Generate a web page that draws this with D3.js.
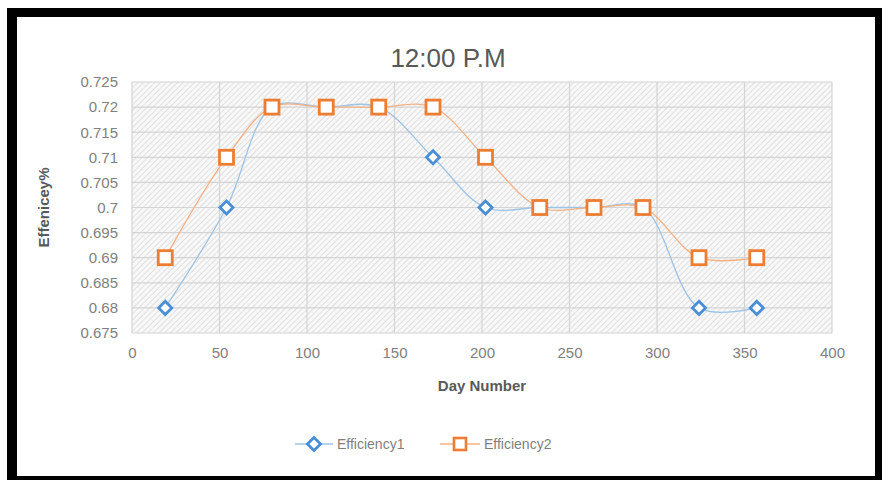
<!DOCTYPE html>
<html>
<head>
<meta charset="utf-8">
<script src="https://cdn.jsdelivr.net/npm/d3@7"></script>
<style>
  body { margin: 0; background: #fff; }
  svg { display: block; font-family: "Liberation Sans", Arial, sans-serif; }
</style>
</head>
<body>
<div id="chart"></div>
<script>
// --- DATA ---
const days = [19, 54, 80, 111, 141, 172, 202, 233, 264, 292, 324, 357];
const efficiency1 = [0.68, 0.70, 0.72, 0.72, 0.72, 0.71, 0.70, 0.70, 0.70, 0.70, 0.68, 0.68];
const efficiency2 = [0.69, 0.71, 0.72, 0.72, 0.72, 0.72, 0.71, 0.70, 0.70, 0.70, 0.69, 0.69];
const xTicks = [0, 50, 100, 150, 200, 250, 300, 350, 400];
const yTicks = [0.675, 0.68, 0.685, 0.69, 0.695, 0.7, 0.705, 0.71, 0.715, 0.72, 0.725];
const seriesNames = ["Efficiency1", "Efficiency2"];

const W = 882, H = 480;
const margin = { top: 82, right: 50, bottom: 147, left: 132 };
const width = 700, height = 251;

const svg = d3.select("#chart").append("svg")
    .attr("width", W).attr("height", H);

// black frame round the white chart area
svg.append("rect").attr("x", 7).attr("y", 8).attr("width", 875).attr("height", 472).attr("fill", "#000");
svg.append("rect").attr("x", 17).attr("y", 17).attr("width", 858).attr("height", 459).attr("fill", "#fff");

// hatch pattern for plot area
const defs = svg.append("defs");
const pat = defs.append("pattern").attr("id", "hatch")
    .attr("width", 4).attr("height", 4)
    .attr("patternUnits", "userSpaceOnUse")
    .attr("patternTransform", "rotate(45)");
pat.append("rect").attr("width", 4).attr("height", 4).attr("fill", "#f8f8f8");
pat.append("line").attr("x1", 0).attr("y1", 0).attr("x2", 0).attr("y2", 4)
    .attr("stroke", "#d6d6d6").attr("stroke-width", 1.4);

const g = svg.append("g").attr("transform", `translate(${margin.left},${margin.top})`);

const x = d3.scaleLinear().domain([0, 400]).range([0, width]);
const y = d3.scaleLinear().domain([0.675, 0.725]).range([height, 0]);

g.append("rect").attr("width", width).attr("height", height).attr("fill", "url(#hatch)");

// gridlines
g.append("g").selectAll("line").data(yTicks).join("line")
    .attr("x1", 0).attr("x2", width)
    .attr("y1", d => y(d)).attr("y2", d => y(d))
    .attr("stroke", "#d4d4d4").attr("stroke-width", 1.2);
g.append("g").selectAll("line").data(xTicks).join("line")
    .attr("y1", 0).attr("y2", height)
    .attr("x1", d => x(d)).attr("x2", d => x(d))
    .attr("stroke", "#d4d4d4").attr("stroke-width", 1.2);

// axes (labels only)
const xAxis = g.append("g").attr("transform", `translate(0,${height})`)
    .call(d3.axisBottom(x).tickValues(xTicks).tickSize(0).tickPadding(14).tickFormat(d3.format("d")));
const yAxis = g.append("g")
    .call(d3.axisLeft(y).tickValues(yTicks).tickSize(0).tickPadding(14).tickFormat(d => d3.format("")(+d.toFixed(3))));
[xAxis, yAxis].forEach(a => {
    a.select(".domain").remove();
    a.selectAll("text").attr("fill", "#808080").style("font-size", "15px").style("font-family", "Liberation Sans, Arial, sans-serif");
});

// lines
const line = d3.line().x(d => x(d[0])).y(d => y(d[1])).curve(d3.curveCatmullRom.alpha(0.5));
const s1 = days.map((d, i) => [d, efficiency1[i]]);
const s2 = days.map((d, i) => [d, efficiency2[i]]);

g.append("path").datum(s1).attr("d", line).attr("fill", "none")
    .attr("stroke", "#9dc3e6").attr("stroke-width", 1.3);
g.append("path").datum(s2).attr("d", line).attr("fill", "none")
    .attr("stroke", "#f4b183").attr("stroke-width", 1.3);

const diamond = d3.symbol().type(d3.symbolDiamond2).size(110);
g.append("g").selectAll("path").data(s1).join("path")
    .attr("d", diamond)
    .attr("transform", d => `translate(${x(d[0])},${y(d[1])})`)
    .attr("fill", "#fff").attr("stroke", "#4a8fd6").attr("stroke-width", 2.8);

g.append("g").selectAll("rect").data(s2).join("rect")
    .attr("x", d => x(d[0]) - 7).attr("y", d => y(d[1]) - 7)
    .attr("width", 14).attr("height", 14)
    .attr("fill", "#fff").attr("stroke", "#ed7d31").attr("stroke-width", 2.8);

// title and axis titles
svg.append("text").attr("x", 448).attr("y", 67).attr("text-anchor", "middle")
    .attr("fill", "#595959").style("font-size", "26px").text("12:00 P.M");
svg.append("text").attr("x", margin.left + width / 2).attr("y", 391).attr("text-anchor", "middle")
    .attr("fill", "#595959").style("font-size", "15px").style("font-weight", "bold").text("Day Number");
svg.append("text").attr("transform", `translate(49,${margin.top + height / 2}) rotate(-90)`)
    .attr("text-anchor", "middle").attr("fill", "#595959")
    .style("font-size", "15px").style("font-weight", "bold").text("Effenicey%");

// legend
const legend = svg.append("g").attr("transform", "translate(0,444)");
const lg1 = legend.append("g").attr("transform", "translate(295,0)");
lg1.append("line").attr("x1", 0).attr("x2", 38).attr("stroke", "#9dc3e6").attr("stroke-width", 1.3);
lg1.append("path").attr("d", diamond).attr("transform", "translate(19,0)")
    .attr("fill", "#fff").attr("stroke", "#4a8fd6").attr("stroke-width", 2.8);
lg1.append("text").attr("x", 42).attr("y", 5).attr("fill", "#7f7f7f").style("font-size", "14px").text(seriesNames[0]);

const lg2 = legend.append("g").attr("transform", "translate(440,0)");
lg2.append("line").attr("x1", 0).attr("x2", 40).attr("stroke", "#f4b183").attr("stroke-width", 1.3);
lg2.append("rect").attr("x", 14).attr("y", -6).attr("width", 12).attr("height", 12)
    .attr("fill", "#fff").attr("stroke", "#ed7d31").attr("stroke-width", 2.6);
lg2.append("text").attr("x", 44).attr("y", 5).attr("fill", "#7f7f7f").style("font-size", "14px").text(seriesNames[1]);
</script>
</body>
</html>
